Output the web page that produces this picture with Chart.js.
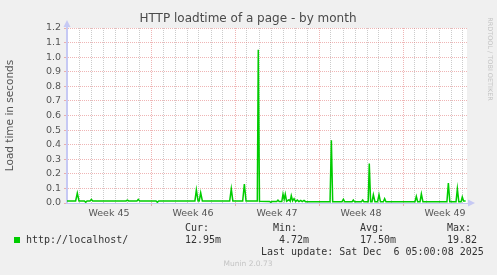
<!DOCTYPE html>
<html>
<head>
<meta charset="utf-8">
<title>HTTP loadtime of a page - by month</title>
<script src="https://cdn.jsdelivr.net/npm/chart.js@4.4.1/dist/chart.umd.min.js"></script>
<style>
  html, body { margin: 0; padding: 0; background: #f0f0f0; }
  canvas { display: block; }
</style>
</head>
<body>
<canvas id="loadChart" width="497" height="275"></canvas>
<script>
// Data (x = days since left edge, y = seconds)
const loadDays = [
    0.0, 0.72, 0.86, 1.0, 1.45, 1.56, 1.67, 1.92, 2.03, 2.14,
    4.92, 5.03, 5.14, 5.83, 5.94, 6.05, 7.42, 7.53, 7.64,
    10.66, 10.78, 10.92, 11.02, 11.14, 11.28, 13.56, 13.69, 13.82,
    14.64, 14.78, 14.92, 15.86, 15.94, 16.04, 16.87, 16.98, 17.09,
    17.48, 17.58, 17.68, 17.9, 18.0, 18.1, 18.19, 18.3, 18.5, 18.6,
    18.69, 18.8, 18.92, 19.05, 19.19, 19.33, 19.48, 19.6, 19.75, 19.88,
    21.92, 22.03, 22.14, 22.92, 23.03, 23.14, 23.76, 23.86, 23.96,
    24.54, 24.64, 24.74, 25.1, 25.19, 25.3, 25.42, 25.53, 25.66,
    25.88, 26.0, 26.12, 26.36, 26.47, 26.58, 29.0, 29.11, 29.22,
    29.42, 29.53, 29.66, 31.66, 31.78, 31.9, 32.42, 32.53, 32.65,
    32.84, 32.94, 33.05, 33.22
];
const loadValues = [
    0.014, 0.014, 0.068, 0.014, 0.014, 0.005, 0.014, 0.014, 0.025, 0.014,
    0.014, 0.020, 0.014, 0.014, 0.025, 0.014, 0.014, 0.005, 0.014,
    0.014, 0.090, 0.014, 0.014, 0.070, 0.014, 0.014, 0.097, 0.014,
    0.014, 0.130, 0.014, 0.014, 1.050, 0.012, 0.011, 0.005, 0.010,
    0.010, 0.020, 0.010, 0.010, 0.061, 0.025, 0.061, 0.012, 0.022, 0.012,
    0.050, 0.015, 0.030, 0.010, 0.020, 0.010, 0.018, 0.010, 0.018, 0.009,
    0.009, 0.430, 0.009, 0.009, 0.025, 0.009, 0.009, 0.020, 0.009,
    0.009, 0.020, 0.009, 0.009, 0.270, 0.009, 0.009, 0.057, 0.009,
    0.009, 0.057, 0.009, 0.009, 0.030, 0.009, 0.009, 0.045, 0.009,
    0.009, 0.063, 0.009, 0.009, 0.136, 0.009, 0.009, 0.097, 0.009,
    0.009, 0.041, 0.013, 0.013
];

// Axis ticks
const weekLabels = ['Week 45', 'Week 46', 'Week 47', 'Week 48', 'Week 49'];
const weekLabelDays = [3.5, 10.5, 17.5, 24.5, 31.5];
const majorDays = [7, 14, 21, 28];
const yTicks = [0, 0.1, 0.2, 0.3, 0.4, 0.5, 0.6, 0.7, 0.8, 0.9, 1.0, 1.1, 1.2];

// Legend texts
const seriesName = 'http://localhost/';
const statHeads = ['Cur:', 'Min:', 'Avg:', 'Max:'];
const statValues = ['12.95m', '4.72m', '17.50m', '19.82'];
const lastUpdate = 'Last update: Sat Dec  6 05:00:08 2025';

const GREEN = '#00cc00';
const AXIS_BLUE = '#c6c9f4';
const MAJOR = 'rgba(225, 120, 120, 0.55)';
const MINOR = 'rgba(170, 170, 170, 0.6)';

const days = [];
for (let d = 1; d <= 33; d++) days.push(d);

// background, arrows, title and munin legend
const muninDecor = {
    id: 'muninDecor',
    beforeDraw(chart) {
        const ctx = chart.ctx;
        const a = chart.chartArea;
        ctx.save();
        ctx.fillStyle = '#f0f0f0';
        ctx.fillRect(0, 0, chart.width, chart.height);
        ctx.fillStyle = '#ffffff';
        ctx.fillRect(a.left, a.top, a.right - a.left, a.bottom - a.top);
        ctx.restore();
    },
    afterDraw(chart) {
        const ctx = chart.ctx;
        const a = chart.chartArea;
        ctx.save();

        // arrows at the ends of the axes
        ctx.fillStyle = AXIS_BLUE;
        ctx.beginPath();
        ctx.moveTo(a.left - 3.5, a.top - 1);
        ctx.lineTo(a.left + 3.5, a.top - 1);
        ctx.lineTo(a.left, a.top - 8);
        ctx.fill();
        ctx.beginPath();
        ctx.moveTo(a.right + 1, a.bottom - 3.5);
        ctx.lineTo(a.right + 1, a.bottom + 3.5);
        ctx.lineTo(a.right + 8, a.bottom);
        ctx.fill();

        // title
        ctx.fillStyle = '#4a4a4a';
        ctx.font = '12px "DejaVu Sans"';
        ctx.textAlign = 'center';
        ctx.textBaseline = 'middle';
        ctx.fillText('HTTP loadtime of a page - by month', 248, 19);

        // rrdtool credit on the right
        ctx.save();
        ctx.translate(490, 59);
        ctx.rotate(Math.PI / 2);
        ctx.fillStyle = '#c4c4c4';
        ctx.font = '6.5px "DejaVu Sans"';
        ctx.fillText('RRDTOOL / TOBI OETIKER', 0, 0);
        ctx.restore();

        // legend
        ctx.fillStyle = GREEN;
        ctx.fillRect(14, 237, 6, 6);
        ctx.font = '10px "DejaVu Sans Mono"';
        ctx.fillStyle = '#333333';
        ctx.textAlign = 'left';
        ctx.fillText(seriesName, 26, 240);
        const headX = [185, 273, 360, 447];
        const valX = [185, 279, 360, 447];
        statHeads.forEach((h, i) => ctx.fillText(h, headX[i], 228));
        statValues.forEach((v, i) => ctx.fillText(v, valX[i], 240));
        ctx.fillText(lastUpdate, 261, 252);

        ctx.font = '7.5px "DejaVu Sans"';
        ctx.fillStyle = '#c4c4c4';
        ctx.textAlign = 'center';
        ctx.fillText('Munin 2.0.73', 248, 264);
        ctx.restore();
    }
};

function xGridColor(ctx) {
    const v = ctx.tick && ctx.tick.value;
    if (majorDays.includes(v)) return MAJOR;
    if (Number.isInteger(v)) return MINOR;
    return 'rgba(0,0,0,0)';
}

new Chart(document.getElementById('loadChart'), {
    type: 'line',
    data: {
        datasets: [{
            label: seriesName,
            data: loadDays.map((d, i) => ({ x: d, y: loadValues[i] })),
            borderColor: GREEN,
            borderWidth: 1.5,
            pointRadius: 0,
            tension: 0,
            fill: false
        }]
    },
    options: {
        responsive: false,
        animation: false,
        layout: { padding: { left: 0, right: 30, top: 28, bottom: 0 } },
        plugins: {
            legend: { display: false },
            tooltip: { enabled: false }
        },
        scales: {
            x: {
                type: 'linear',
                min: 0,
                max: 400 / 12,
                afterBuildTicks: axis => {
                    axis.ticks = days.concat(weekLabelDays).sort((p, q) => p - q).map(v => ({ value: v }));
                },
                afterFit: axis => { axis.height = 72; },
                ticks: {
                    autoSkip: false,
                    maxRotation: 0,
                    padding: 2,
                    color: '#555555',
                    font: { family: 'DejaVu Sans', size: 9.5 },
                    callback: value => {
                        const i = weekLabelDays.indexOf(value);
                        return i >= 0 ? weekLabels[i] : '';
                    }
                },
                grid: {
                    color: xGridColor,
                    tickColor: ctx => majorDays.includes(ctx.tick && ctx.tick.value) ? MAJOR : 'rgba(0,0,0,0)',
                    tickLength: 3,
                    lineWidth: 1
                },
                border: { color: AXIS_BLUE, width: 1, dash: [1, 1] }
            },
            y: {
                min: 0,
                max: 1.2,
                afterBuildTicks: axis => { axis.ticks = yTicks.map(v => ({ value: v })); },
                afterFit: axis => { axis.width = 67; },
                ticks: {
                    padding: 3,
                    color: '#555555',
                    font: { family: 'DejaVu Sans', size: 9.5 },
                    callback: value => value.toFixed(1)
                },
                grid: {
                    color: ctx => (ctx.tick && ctx.tick.value > 0) ? MAJOR : 'rgba(0,0,0,0)',
                    tickColor: MAJOR,
                    tickLength: 3,
                    lineWidth: 1
                },
                border: { color: AXIS_BLUE, width: 2, dash: [1, 1] },
                title: {
                    display: true,
                    text: 'Load time in seconds',
                    color: '#555555',
                    font: { family: 'DejaVu Sans', size: 10.5 },
                    padding: { top: 4, bottom: 0 }
                }
            }
        }
    },
    plugins: [muninDecor]
});
</script>
</body>
</html>
